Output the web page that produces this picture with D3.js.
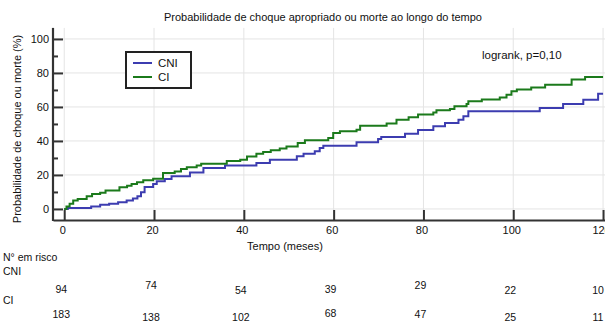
<!DOCTYPE html>
<html><head><meta charset="utf-8">
<script src="https://cdn.jsdelivr.net/npm/d3@7"></script>
<style>
html,body{margin:0;padding:0;background:#fff;}
svg{display:block;font-family:"Liberation Sans",Arial,Helvetica,sans-serif;}
</style></head>
<body>
<svg id="chart" width="605" height="322"></svg>
<script>
// ---- data ----
const title = "Probabilidade de choque apropriado ou morte ao longo do tempo";
const xLabel = "Tempo (meses)";
const yLabel = "Probabilidade de choque ou morte (%)";
const seriesNames = ["CNI", "CI"];
const xTicks = [0, 20, 40, 60, 80, 100, 120];
const yTicks = [0, 20, 40, 60, 80, 100];
const yMinorTicks = [10, 30, 50, 70, 90];
// step functions: [time (months), cumulative probability (%)]
const cniSteps = [[0,0],[0.8,0.6],[6,1.5],[8,2.5],[10,3.1],[12,3.9],[13.9,5.0],[15.3,6.1],[16.3,7.5],[17.1,9.8],[17.9,12.9],[19.8,14.7],[20.6,16.3],[22.4,17.6],[23.9,19.2],[28,21.5],[31,24.1],[35.8,25.5],[42.8,27.0],[45.8,29.0],[51.8,31.0],[53.3,32.5],[55.8,33.9],[56.9,35.9],[57.7,37.2],[65.1,39.2],[69.9,41.2],[70.6,42.3],[75.9,44.3],[78.8,46.4],[82.2,48.6],[84.8,50.6],[87.8,52.5],[88.9,54.5],[90,57.4],[105.9,59.4],[111.1,61.8],[115.6,64.3],[118.9,67.8],[120,67.8]];
const ciSteps = [[0,0],[0.5,1.5],[1.2,3],[2,4.9],[3,5.8],[5,7.4],[6.2,8.8],[8,9.6],[9.2,10.8],[12.3,12.7],[14,13.7],[15,14.7],[16.2,15.7],[17.6,16.9],[19.8,17.8],[22,21.2],[24.6,22.1],[26,23.5],[27.3,24.5],[29.5,25.5],[30.5,26.6],[36.2,28.2],[39.2,29.0],[40.7,30.9],[42.8,32.5],[44.3,33.5],[46,34.5],[48,35.5],[49.5,36.8],[52,38.8],[53.6,40.4],[58.8,41.8],[59.9,44.7],[61.4,45.7],[65.1,46.6],[65.9,49.0],[71.8,50.2],[74,52.5],[76.7,53.9],[78.8,55.6],[82.2,56.8],[82.9,58.0],[85.9,58.8],[86.9,60.4],[89.6,61.8],[90,63.3],[93,64.4],[97,65.5],[98.5,67.2],[99.6,69.2],[100.8,70.2],[104,71.5],[107.1,73.1],[113,76.1],[116,77.6],[120,77.6]];
const riskTimes = [0, 20, 40, 60, 80, 100, 120];
const riskCNI = [94, 74, 54, 39, 29, 22, 10];
const riskCI = [183, 138, 102, 68, 47, 25, 11];
const pText = "logrank, p=0,10";

// ---- layout ----
const svg = d3.select("#chart");
const colors = {CNI: "#3c3cb0", CI: "#1b7a1b"};
const x = d3.scaleLinear().domain([-2.5, 125]).range([53, 625.5]);
const y = d3.scaleLinear().domain([-6.5, 106.5]).range([220, 27.9]);
const pTop = y(106.5), pBottom = y(-6.5), pLeft = x(-2.5), pRight = 605;

// grid
const grid = svg.append("g");
grid.selectAll("line.h").data(yTicks).join("line")
  .attr("x1", pLeft).attr("x2", pRight).attr("y1", d => y(d)).attr("y2", d => y(d))
  .attr("stroke", "#e4e4e4").attr("stroke-width", 1);
grid.selectAll("line.v").data(xTicks).join("line")
  .attr("x1", d => x(d)).attr("x2", d => x(d)).attr("y1", pTop).attr("y2", pBottom)
  .attr("stroke", "#e4e4e4").attr("stroke-width", 1);

// curves
const line = d3.line().x(d => x(d[0])).y(d => y(d[1])).curve(d3.curveStepAfter);
svg.append("path").datum(cniSteps).attr("d", line).attr("fill", "none")
  .attr("stroke", colors.CNI).attr("stroke-width", 2);
svg.append("path").datum(ciSteps).attr("d", line).attr("fill", "none")
  .attr("stroke", colors.CI).attr("stroke-width", 2);

// axes
const axCol = "#333";
const yAx = svg.append("g").attr("transform", `translate(${pLeft},0)`)
  .call(d3.axisLeft(y).tickValues(yTicks).tickSize(-10).tickSizeOuter(0).tickPadding(4));
svg.append("g").attr("transform", `translate(${pLeft},0)`)
  .call(d3.axisLeft(y).tickValues(yMinorTicks).tickSize(-5).tickSizeOuter(0).tickFormat(""))
  .call(g => g.select(".domain").remove())
  .selectAll("line").attr("stroke", axCol).attr("stroke-width", 2);
const xAx = svg.append("g").attr("transform", `translate(0,${pBottom})`)
  .call(d3.axisBottom(x).tickValues(xTicks).tickSize(-10).tickSizeOuter(0).tickPadding(6));
[yAx, xAx].forEach(g => {
  g.select(".domain").attr("stroke", axCol).attr("stroke-width", 2.2);
  g.selectAll(".tick line").attr("stroke", axCol).attr("stroke-width", 2);
  g.selectAll("text").attr("font-size", 11).attr("fill", "#111")
    .attr("font-family", '"Liberation Sans",Arial,sans-serif');
});
xAx.selectAll("text").attr("dx", -2);
yAx.select(".domain").attr("d", `M0,${pTop}V${pBottom + 1}`);

// title and labels
svg.append("text").attr("x", 323).attr("y", 21).attr("text-anchor", "middle")
  .attr("font-size", 11).attr("fill", "#111").text(title);
svg.append("text").attr("x", 285).attr("y", 250).attr("text-anchor", "middle")
  .attr("font-size", 11).attr("fill", "#111").text(xLabel);
svg.append("text").attr("transform", "translate(21,129) rotate(-90)").attr("text-anchor", "middle")
  .attr("font-size", 11).attr("fill", "#111").text(yLabel);
svg.append("text").attr("x", 482).attr("y", 59)
  .attr("font-size", 11.5).attr("fill", "#111").text(pText);

// legend
const lg = svg.append("g");
lg.append("rect").attr("x", 126).attr("y", 52).attr("width", 65).attr("height", 36)
  .attr("fill", "#fff").attr("stroke", "#222").attr("stroke-width", 2);
seriesNames.forEach((n, i) => {
  const yy = 63 + i * 14;
  lg.append("line").attr("x1", 133).attr("x2", 152).attr("y1", yy).attr("y2", yy)
    .attr("stroke", colors[n]).attr("stroke-width", 2);
  lg.append("text").attr("x", 158).attr("y", yy + 4).attr("font-size", 11.5)
    .attr("fill", "#111").text(n);
});

// risk table
const rt = svg.append("g").attr("font-size", 10.5).attr("fill", "#111");
rt.append("text").attr("x", 3).attr("y", 261).text("N\u00b0 em risco");
rt.append("text").attr("x", 3).attr("y", 275).text("CNI");
rt.append("text").attr("x", 3).attr("y", 304).text("CI");
const cniY = [289, 285, 290, 289, 285, 290, 290];
const ciY = [314, 317, 317, 313, 314, 317, 317];
rt.selectAll("text.cni").data(riskCNI).join("text").attr("class", "cni")
  .attr("x", (d, i) => Math.min(x(riskTimes[i]) - 3, 598)).attr("y", (d, i) => cniY[i] + 4)
  .attr("text-anchor", "middle").text(d => d);
rt.selectAll("text.ci").data(riskCI).join("text").attr("class", "ci")
  .attr("x", (d, i) => Math.min(x(riskTimes[i]) - 3, 598)).attr("y", (d, i) => ciY[i] + 4)
  .attr("text-anchor", "middle").text(d => d);
</script>
</body></html>
